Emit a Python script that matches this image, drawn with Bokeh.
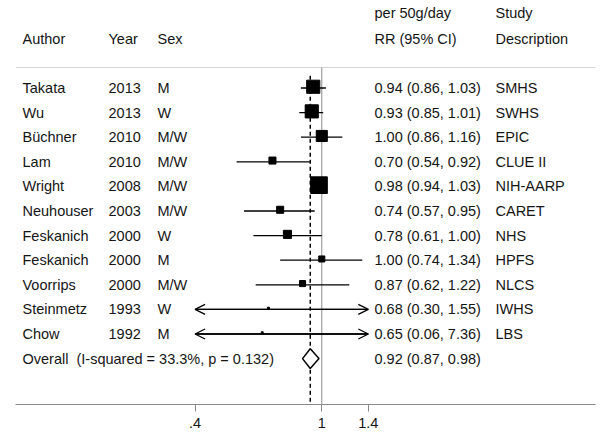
import numpy as np
from bokeh.plotting import figure
from bokeh.models import Range1d, LinearScale, FixedTicker, Arrow, OpenHead, ColumnDataSource
from bokeh.core.properties import value
from bokeh.embed import file_html
from bokeh.resources import INLINE

# ---- data ----
authors = ["Takata", "Wu", "Büchner", "Lam", "Wright", "Neuhouser", "Feskanich",
           "Feskanich", "Voorrips", "Steinmetz", "Chow"]
years = ["2013", "2013", "2010", "2010", "2008", "2003", "2000", "2000", "2000", "1993", "1992"]
sexes = ["M", "W", "M/W", "M/W", "M/W", "M/W", "W", "M", "M/W", "W", "M"]
rr = [0.94, 0.93, 1.00, 0.70, 0.98, 0.74, 0.78, 1.00, 0.87, 0.68, 0.65]
ci_low = [0.86, 0.85, 0.86, 0.54, 0.94, 0.57, 0.61, 0.74, 0.62, 0.30, 0.06]
ci_high = [1.03, 1.01, 1.16, 0.92, 1.03, 0.95, 1.00, 1.34, 1.22, 1.55, 7.36]
studies = ["SMHS", "SWHS", "EPIC", "CLUE II", "NIH-AARP", "CARET", "NHS", "HPFS",
           "NLCS", "IWHS", "LBS"]
weights = [17.4, 17.4, 12.4, 5.0, 28.0, 5.0, 6.6, 3.7, 3.7, 0.4, 0.4]
overall_rr = 0.92
overall_low = 0.87
overall_high = 0.98
overall_label = "Overall\u00a0 (I-squared = 33.3%, p = 0.132)"
tick_values = [0.4, 1, 1.4]
tick_labels = [".4", "1", "1.4"]
clip_low, clip_high = 0.4, 1.4

# ---- layout ----
FONT = value("Liberation Sans")
FS = "14.5px"
TXT = "#151515"
n = len(authors)
rows = np.arange(n)
overall_row = n
x_start, x_end = 0.1092, 7.2355
y_bottom, y_top = 12.866, -3.557
hdr1, hdr2, sep = -3.03, -2.01, -0.833
col_author, col_year, col_sex, col_ci, col_study = 22, 108, 157, 374, 495

p = figure(width=600, height=436, x_axis_type="log",
           x_range=Range1d(x_start, x_end), y_range=Range1d(y_bottom, y_top),
           output_backend="svg", toolbar_location=None, y_axis_location=None,
           min_border_left=15, min_border_right=5, min_border_top=0, min_border_bottom=32,
           background_fill_color="white", border_fill_color="white")
p.outline_line_color = None
p.grid.visible = False
p.extra_x_ranges = {"px": Range1d(15, 595)}
p.extra_x_scales = {"px": LinearScale()}

ax = p.xaxis[0]
ax.ticker = FixedTicker(ticks=tick_values, minor_ticks=[])
ax.major_label_overrides = {v: l for v, l in zip(tick_values, tick_labels)}
ax.axis_line_color = "#8a8a8a"
ax.major_tick_line_color = "#8a8a8a"
ax.minor_tick_line_color = None
ax.major_tick_in = 0
ax.major_tick_out = 7
ax.major_label_standoff = 6
ax.major_label_text_font = "Liberation Sans"
ax.major_label_text_font_size = FS
ax.major_label_text_color = TXT

# separator line
p.segment(x0=[15], x1=[595], y0=[sep], y1=[sep], x_range_name="px",
          line_color="#d6d6d6", line_width=1)

# reference lines
p.segment(x0=[1], x1=[1], y0=[sep], y1=[y_bottom], line_color="#8a8a8a", line_width=1)
p.segment(x0=[overall_rr], x1=[overall_rr], y0=[-0.5], y1=[y_bottom],
          line_color="black", line_width=1.5, line_dash="4 3")

# confidence intervals (clipped to display range)
lo_c = np.clip(ci_low, clip_low, clip_high)
hi_c = np.clip(ci_high, clip_low, clip_high)
p.segment(x0=lo_c, x1=hi_c, y0=rows, y1=rows, line_color="black", line_width=1.3)

left_idx = [i for i in range(n) if ci_low[i] < clip_low]
right_idx = [i for i in range(n) if ci_high[i] > clip_high]
if left_idx:
    src = ColumnDataSource(dict(xs=[rr[i] for i in left_idx], xe=[clip_low] * len(left_idx),
                                y=[float(i) for i in left_idx]))
    p.add_layout(Arrow(end=OpenHead(size=10, line_width=1.3), x_start="xs", y_start="y",
                       x_end="xe", y_end="y", source=src, line_width=1.3))
if right_idx:
    src = ColumnDataSource(dict(xs=[rr[i] for i in right_idx], xe=[clip_high] * len(right_idx),
                                y=[float(i) for i in right_idx]))
    p.add_layout(Arrow(end=OpenHead(size=10, line_width=1.3), x_start="xs", y_start="y",
                       x_end="xe", y_end="y", source=src, line_width=1.3))

# weight boxes
sizes = np.sqrt(weights) * 3.15
p.scatter(x=rr, y=rows - 0.05, size=sizes, marker="square", fill_color="black",
          line_color="black")

# overall diamond
h = 0.4
p.patch(x=[overall_low, overall_rr, overall_high, overall_rr],
        y=[overall_row, overall_row - h, overall_row, overall_row + h],
        fill_color="white", line_color="black", line_width=1.5)

# texts
def txt(x, y, t):
    p.text(x=x, y=y, text=t, x_range_name="px", text_font=FONT, text_font_size=FS,
           text_color=TXT, text_baseline="middle", text_align="left")

txt([col_author, col_year, col_sex, col_ci, col_study],
    [hdr2] * 5, ["Author", "Year", "Sex", "RR (95% CI)", "Description"])
txt([col_ci, col_study], [hdr1] * 2, ["per 50g/day", "Study"])
txt([col_author] * n, rows, authors)
txt([col_year] * n, rows, years)
txt([col_sex] * n, rows, sexes)
ci_text = [f"{r:.2f} ({l:.2f}, {u:.2f})" for r, l, u in zip(rr, ci_low, ci_high)]
txt([col_ci] * n, rows, ci_text)
txt([col_study] * n, rows, studies)
txt([col_author], [overall_row], [overall_label])
txt([col_ci], [overall_row], [f"{overall_rr:.2f} ({overall_low:.2f}, {overall_high:.2f})"])

open("out.html", "w").write(file_html(p, INLINE))
